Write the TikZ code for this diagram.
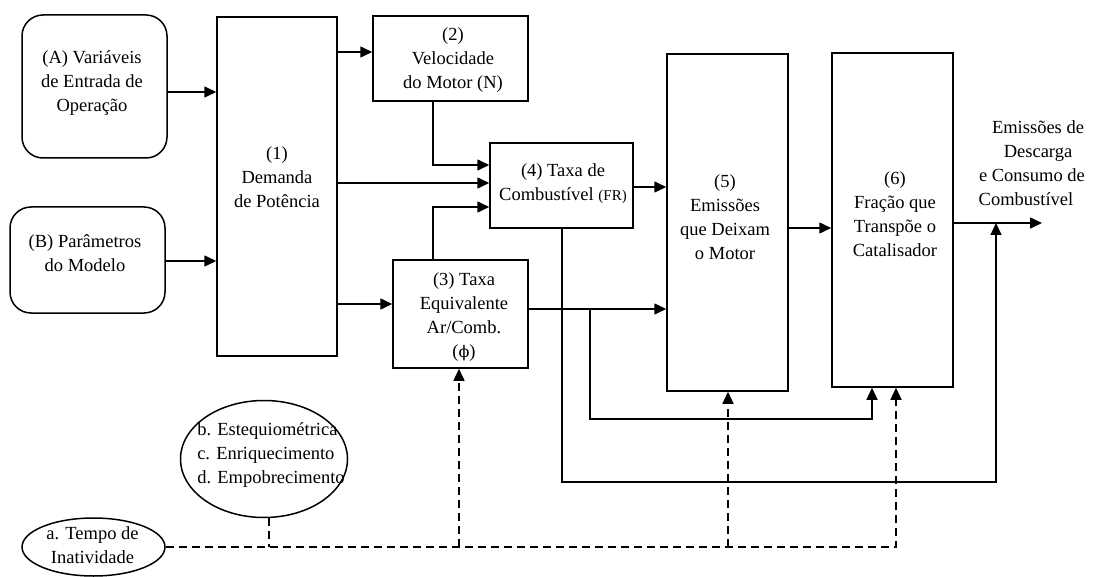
\documentclass[tikz,border=0pt]{standalone}
\usepackage{fontspec}
\setmainfont{Liberation Serif}
\newfontfamily\phifont{DejaVu Serif}
\usetikzlibrary{arrows.meta,shapes.geometric,calc}
\begin{document}
\begin{tikzpicture}[x=1pt,y=-1pt,
  box/.style={draw,line width=1.5pt,inner sep=0pt,rectangle},
  rbox/.style={box,rounded corners=21pt},
  ell/.style={draw,line width=1.5pt,ellipse,inner sep=0pt},
  txt/.style={align=center,inner sep=0pt,font=\fontsize{18.5pt}{24pt}\selectfont},
  arr/.style={line width=1.5pt,-{Triangle[length=12pt,width=11pt]}},
  dsh/.style={line width=1.5pt,dash pattern=on 8pt off 5pt},
  darr/.style={dsh,-{Triangle[length=12pt,width=11pt]}}]
\useasboundingbox (0,0) rectangle (1094,577);

% boxes
\node[rbox,minimum width=145pt,minimum height=143pt] (A) at (94.5,86.5) {};
\node[rbox,minimum width=155pt,minimum height=106pt] (B) at (87.5,260) {};
\node[box,minimum width=120pt,minimum height=339pt] (n1) at (277,186.5) {};
\node[box,minimum width=155pt,minimum height=85pt] (n2) at (450.5,58.5) {};
\node[box,minimum width=143pt,minimum height=85pt] (n4) at (561.5,185.5) {};
\node[box,minimum width=135pt,minimum height=108pt] (n3) at (460.5,314) {};
\node[box,minimum width=121pt,minimum height=337pt] (n5) at (727.5,222.5) {};
\node[box,minimum width=121pt,minimum height=334pt] (n6) at (892.5,220) {};
\node[ell,minimum width=167pt,minimum height=117pt] (eb) at (264,459) {};
\node[ell,minimum width=143pt,minimum height=58pt] (ea) at (93.5,547) {};

% texts
\node[txt] (tA) at (92,83) {(A) Variáveis\\de Entrada de\\Operação};
\node[txt] (tB) at (85,253) {(B) Parâmetros\\do Modelo};
\node[txt] (t1) at (277,177) {(1)\\Demanda\\de Potência};
\node[txt] (t2) at (453,60) {(2)\\Velocidade\\do Motor (N)};
\node[txt] (t4) at (563,183.5) {(4) Taxa de\\Combustível {\fontsize{15pt}{24pt}\selectfont(FR)}};
\node[txt] (t3) at (464,317) {(3) Taxa\\Equivalente\\Ar/Comb.\\({\phifont\fontsize{16pt}{24pt}\selectfont ϕ})};
\node[txt] (t5) at (725,217.5) {(5)\\Emissões\\que Deixam\\o Motor};
\node[txt] (t6) at (895,214) {(6)\\Fração que\\Transpõe o\\Catalisador};
\node[txt] (tout) at (1032,163.5) {\hspace*{12pt}Emissões de\\\hspace*{12pt}Descarga\\e Consumo de\\Combustível\hspace*{12pt}};
\node[txt,align=left] (teb) at (271,455) {b. Estequiométrica\\c. Enriquecimento\\d. Empobrecimento};
\node[txt] (tea) at (92.5,545) {a. Tempo de\\Inatividade};

% coordinates
\coordinate (out) at (1042,223);
\coordinate (fb) at (996,223);
\coordinate (br) at (590,309);
\coordinate (jb) at (269,547);
\coordinate (j3) at (459,547);
\coordinate (j5) at (728,547);
\coordinate (j6) at (896,547);

% solid connectors
\draw[arr] (A.east |- 0,92) -- (n1.west |- 0,92);
\draw[arr] (B.east |- 0,261) -- (n1.west |- 0,261);
\draw[arr] (n1.east |- 0,52) -- (n2.west |- 0,52);
\draw[arr] (n1.east |- 0,183) -- (n4.west |- 0,183);
\draw[arr] (n1.east |- 0,304) -- (n3.west |- 0,304);
\draw[arr] (n2.south -| 433,0) |- (n4.west |- 0,165);
\draw[arr] (n3.north -| 433,0) |- (n4.west |- 0,207);
\draw[arr] (n4.east |- 0,187) -- (n5.west |- 0,187);
\draw[arr] (n3.east |- br) -- (n5.west |- br);
\draw[arr] (n5.east |- 0,228) -- (n6.west |- 0,228);
\draw[arr] (n6.east |- out) -- (out);
\draw[arr] (n4.south -| 562,0) |- (fb |- 0,482) -- (fb);
\draw[arr] (br) -- (br |- 0,419) -| (n6.south -| 872,0);

% dashed connectors
\draw[darr] (ea.east |- j6) -- (j6) -- (n6.south -| j6);
\draw[dsh] (eb.south -| jb) -- (jb);
\draw[darr] (j3) -- (n3.south -| j3);
\draw[darr] (j5) -- (n5.south -| j5);
\end{tikzpicture}
\end{document}
